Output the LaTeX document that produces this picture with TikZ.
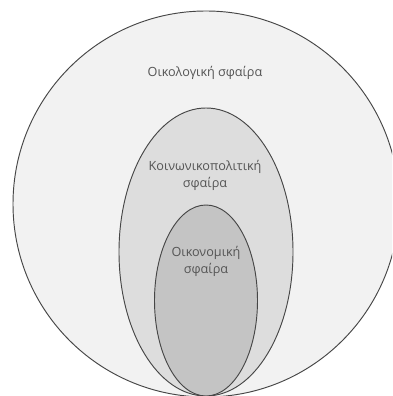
\documentclass[tikz,border=0pt]{standalone}
\usepackage{fontspec}
\setmainfont{Open Sans}
\usepackage{xcolor}
\definecolor{outerfill}{RGB}{242,242,242}
\definecolor{midfill}{RGB}{221,221,221}
\definecolor{innerfill}{RGB}{196,196,196}
\definecolor{rimgray}{RGB}{70,70,70}
\definecolor{textgray}{RGB}{85,85,85}

\begin{document}
\begin{tikzpicture}[
    x=0.03cm, y=0.03cm,
    sphere/.style={draw=rimgray, line width=0.8pt},
    label/.style={font=\fontsize{10.8}{14.5}\selectfont, text=textgray, align=center}
]
    \clip (0,0) rectangle (392,396);
    \fill[white] (0,0) rectangle (392,396);

    % ---- spheres ----
    \draw[sphere, fill=outerfill] (206,192) circle [radius=193];
    \draw[sphere, fill=midfill] (206,144) ellipse [x radius=87, y radius=144];
    \draw[sphere, fill=innerfill] (206,95.5) ellipse [x radius=51.5, y radius=95.5];

    % ---- labels ----
    \node[label] (eco) at (205,323) {Οικολογική σφαίρα};
    \node[label] (soc) at (205,220.5) {Κοινωνικοπολιτική\\σφαίρα};
    \node[label] (econ) at (206,135) {Οικονομική\\σφαίρα};
\end{tikzpicture}
\end{document}
